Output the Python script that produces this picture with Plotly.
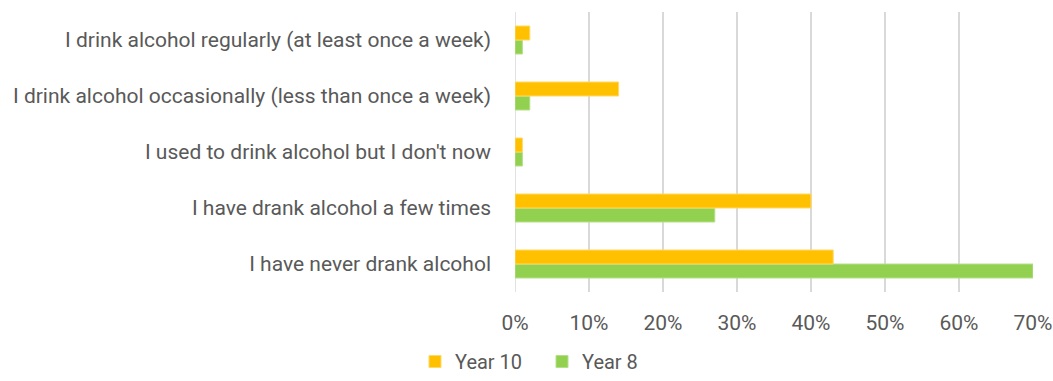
import plotly.graph_objects as go

# Survey responses, listed bottom-to-top as they appear on the axis
categories = [
    "I have never drank alcohol",
    "I have drank alcohol a few times",
    "I used to drink alcohol but I don't now",
    "I drink alcohol occasionally (less than once a week)",
    "I drink alcohol regularly (at least once a week)",
]
year10 = [0.43, 0.40, 0.01, 0.14, 0.02]
year8 = [0.70, 0.27, 0.01, 0.02, 0.01]
x_ticks = [0, 0.1, 0.2, 0.3, 0.4, 0.5, 0.6, 0.7]
x_tick_labels = ["0%", "10%", "20%", "30%", "40%", "50%", "60%", "70%"]

font_family = "Roboto, Open Sans, sans-serif"
text_color = "#595959"

fig = go.Figure()
fig.add_trace(go.Bar(
    y=categories, x=year8, name="Year 8", orientation="h",
    marker=dict(color="#92D050", line=dict(color="#B5E08A", width=1)),
))
fig.add_trace(go.Bar(
    y=categories, x=year10, name="Year 10", orientation="h",
    marker=dict(color="#FFC000", line=dict(color="#FFD966", width=1)),
))

fig.update_layout(
    width=1053, height=381,
    margin=dict(l=515, r=20, t=12, b=89, autoexpand=False),
    paper_bgcolor="white", plot_bgcolor="white",
    barmode="group", bargap=0.5, bargroupgap=0,
    font=dict(family=font_family, size=21, color=text_color),
    showlegend=True,
    legend=dict(
        orientation="h", traceorder="reversed",
        xref="container", x=415 / 1053, xanchor="left",
        yref="container", y=0.0, yanchor="bottom",
        font=dict(size=20, color=text_color),
        entrywidthmode="pixels", entrywidth=82,
        bgcolor="rgba(0,0,0,0)",
    ),
    xaxis=dict(
        range=[0, 0.7], tickvals=x_ticks, ticktext=x_tick_labels,
        showgrid=True, gridcolor="#D9D9D9", gridwidth=1.5,
        zeroline=False, showline=False, ticks="",
        tickfont=dict(size=21),
        ticklabelstandoff=16, fixedrange=True, automargin=False,
    ),
    yaxis=dict(
        type="category", showgrid=False, zeroline=False, showline=False,
        ticks="", ticklabelstandoff=23, fixedrange=True, automargin=False,
    ),
)
# Light vertical line at 0%
fig.add_shape(type="line", x0=0, x1=0, y0=0, y1=1, xref="x", yref="paper",
              line=dict(color="#D9D9D9", width=1.5), layer="below")

fig.write_html("out.html")
